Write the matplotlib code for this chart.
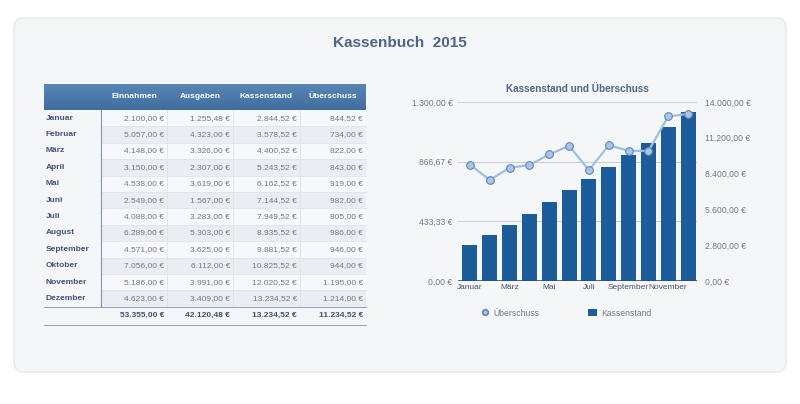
import numpy as np
import matplotlib.pyplot as plt
from matplotlib.patches import FancyBboxPatch, Rectangle
from matplotlib.lines import Line2D
from matplotlib.colors import LinearSegmentedColormap

plt.rcParams['font.family'] = ['Liberation Sans', 'DejaVu Sans']

months = ['Januar', 'Februar', 'März', 'April', 'Mai', 'Juni', 'Juli',
          'August', 'September', 'Oktober', 'November', 'Dezember']
einnahmen = ['2.100,00 €', '5.057,00 €', '4.148,00 €', '3.150,00 €', '4.538,00 €', '2.549,00 €',
             '4.088,00 €', '6.289,00 €', '4.571,00 €', '7.056,00 €', '5.186,00 €', '4.623,00 €']
ausgaben = ['1.255,48 €', '4.323,00 €', '3.326,00 €', '2.307,00 €', '3.619,00 €', '1.567,00 €',
            '3.283,00 €', '5.303,00 €', '3.625,00 €', '6.112,00 €', '3.991,00 €', '3.409,00 €']
kassenstand_txt = ['2.844,52 €', '3.578,52 €', '4.400,52 €', '5.243,52 €', '6.162,52 €', '7.144,52 €',
                   '7.949,52 €', '8.935,52 €', '9.881,52 €', '10.825,52 €', '12.020,52 €', '13.234,52 €']
ueberschuss_txt = ['844,52 €', '734,00 €', '822,00 €', '843,00 €', '919,00 €', '982,00 €',
                   '805,00 €', '986,00 €', '946,00 €', '944,00 €', '1.195,00 €', '1.214,00 €']
totals = ['53.355,00 €', '42.120,48 €', '13.234,52 €', '11.234,52 €']
headers = ['Einnahmen', 'Ausgaben', 'Kassenstand', 'Überschuss']

kassenstand = [2844.52, 3578.52, 4400.52, 5243.52, 6162.52, 7144.52,
               7949.52, 8935.52, 9881.52, 10825.52, 12020.52, 13234.52]
ueberschuss = [844.52, 734.00, 822.00, 843.00, 919.00, 982.00,
               805.00, 986.00, 946.00, 944.00, 1195.00, 1214.00]
left_ticks = [0, 433.33, 866.67, 1300]
left_labels = ['0,00 €', '433,33 €', '866,67 €', '1.300,00 €']
right_ticks = [0, 2800, 5600, 8400, 11200, 14000]
right_labels = ['0,00 €', '2.800,00 €', '5.600,00 €', '8.400,00 €', '11.200,00 €', '14.000,00 €']

W, H = 800, 404
fig = plt.figure(figsize=(W / 100, H / 100), dpi=100)
fig.patch.set_facecolor('white')

# background canvas in pixel coords
bg = fig.add_axes([0, 0, 1, 1])
bg.axis('off')

bg.add_patch(FancyBboxPatch((14, 18), 772, 354, boxstyle='round,pad=0,rounding_size=10',
                            facecolor='#f5f6f8', edgecolor='#dfe2e7', lw=0.8))
bg.text(400, 43, 'Kassenbuch  2015', ha='center', va='center', fontsize=11,
        fontweight='bold', color='#4b6688')

# table
col_x = [44, 101, 167, 233, 300, 366]
hdr_top, hdr_bot = 84, 110
row_h = 16.4
title_col = '#3f5378'
num_col = '#6f7a89'

grad = np.linspace(0, 1, 50).reshape(-1, 1)
bg.imshow(grad, extent=(col_x[0], col_x[-1], hdr_bot, hdr_top), aspect='auto',
          cmap=LinearSegmentedColormap.from_list('h', ['#5a86b6', '#3f6d9f']), zorder=2)
bg.set_xlim(0, W)
bg.set_ylim(H, 0)
for i, h in enumerate(headers):
    bg.text((col_x[i + 1] + col_x[i + 2]) / 2, 97, h, ha='center', va='center',
            fontsize=6, fontweight='bold', color='white', zorder=3)

for r, m in enumerate(months):
    y0 = hdr_bot + r * row_h
    fc = '#f6f8fb' if r % 2 == 0 else '#eaeef3'
    bg.add_patch(Rectangle((col_x[1], y0), col_x[-1] - col_x[1], row_h, facecolor=fc,
                           edgecolor='none', zorder=1))
    bg.plot([col_x[1], col_x[-1]], [y0 + row_h, y0 + row_h], color='#dfe4ea', lw=0.6, zorder=1.5)
    yc = y0 + row_h / 2
    bg.text(col_x[0] + 2, yc, m, ha='left', va='center', fontsize=6, fontweight='bold',
            color=title_col)
    for c, vals in enumerate([einnahmen, ausgaben, kassenstand_txt, ueberschuss_txt]):
        bg.text(col_x[c + 2] - 3, yc, vals[r], ha='right', va='center', fontsize=6,
                color=num_col)
for cx in col_x[2:-1]:
    bg.plot([cx, cx], [hdr_bot, hdr_bot + 12 * row_h], color='#dfe4ea', lw=0.6, zorder=1.5)
bg.plot([col_x[1], col_x[1]], [hdr_bot, hdr_bot + 12 * row_h], color='#7f95b8', lw=0.8, zorder=2)
tb = hdr_bot + 12 * row_h
bg.plot([col_x[0], col_x[-1]], [tb, tb], color='#8fa0b8', lw=0.7, zorder=2)
for c, t in enumerate(totals):
    bg.text(col_x[c + 2] - 3, tb + 9, t, ha='right', va='center', fontsize=6,
            fontweight='bold', color=title_col)
bg.plot([col_x[0], col_x[-1]], [tb + 18, tb + 18], color='#8fa0b8', lw=0.7, zorder=2)

# chart
ax = fig.add_axes([458 / W, 1 - 281 / H, (697 - 458) / W, (281 - 102) / H])
ax2 = ax.twinx()
ax.set_zorder(ax2.get_zorder() + 1)
ax.patch.set_visible(False)
x = np.arange(len(months))

# gridlines sit behind the bars, so draw them on the bar axis
for yv in left_ticks[1:]:
    ax2.axhline(yv / 1300 * 14000, color='#c9d3df', lw=0.8, zorder=0)
ax2.bar(x, kassenstand, width=0.76, color='#1d5c9b', zorder=2)
ax2.set_ylim(0, 14000)
ax2.set_yticks(right_ticks)
ax2.set_yticklabels(right_labels)

ax.plot(x, ueberschuss, color='#9fbfe2', lw=1.6, marker='o', markersize=5.5,
        markerfacecolor='#a9c6e8', markeredgecolor='#5f86b8', markeredgewidth=0.8, zorder=3)
ax.set_ylim(0, 1300)
ax.set_yticks(left_ticks)
ax.set_yticklabels(left_labels)
ax.set_xlim(-0.6, 11.45)
ax.set_xticks(x[::2])
ax.set_xticklabels(months[::2])

for a in (ax, ax2):
    for s in a.spines.values():
        s.set_visible(False)
    a.tick_params(length=0, labelsize=6.2, colors='#6f7a89')
ax.tick_params(axis='y', pad=4)
ax2.tick_params(axis='y', pad=6)
ax.tick_params(axis='x', pad=2, labelsize=6, labelcolor='#4a5568')
ax.axhline(0, color='#2a4f80', lw=1.2, zorder=4)

ax.set_title('Kassenstand und Überschuss', fontsize=7.2, fontweight='bold',
             color='#4b6688', pad=7)

handles = [Line2D([], [], ls='none', marker='o', markersize=4, markerfacecolor='#a9c6e8',
                  markeredgecolor='#5f86b8', markeredgewidth=1.2),
           Rectangle((0, 0), 1, 1, facecolor='#1d5c9b')]
leg = fig.legend(handles, ['Überschuss', 'Kassenstand'], loc='center',
                 bbox_to_anchor=(566 / W, 1 - 313 / H), ncol=2, frameon=False,
                 fontsize=6.2, columnspacing=5.6, handlelength=1.0, handleheight=0.9,
                 handletextpad=0.5)
for t in leg.get_texts():
    t.set_color('#6f7a89')

fig.savefig('out.png', dpi=100, facecolor='white')
